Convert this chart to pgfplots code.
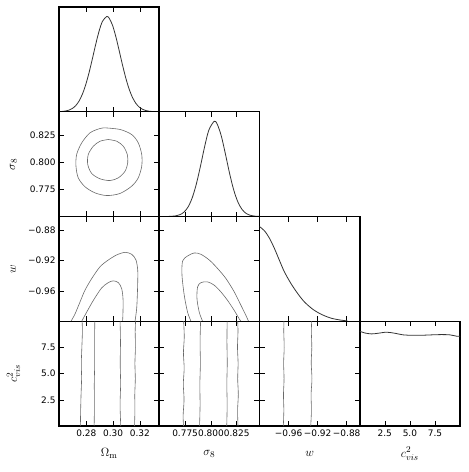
\documentclass[border=0pt]{standalone}
\usepackage[no-math]{fontspec}
\usepackage{pgfplots}
\pgfplotsset{compat=1.18}
\newfontfamily\dejavu{DejaVu Sans}
\definecolor{curve}{HTML}{333333}
\definecolor{cont}{HTML}{6A6A6A}
\pgfplotsset{
    tri/.style={
        scale only axis,
        width=100.25bp,
        height=104.75bp,
        anchor=north west,
        axis line style={line width=1.5pt},
        tick align=inside,
        major tick length=5bp,
        tick style={draw=black,line width=0.6pt},
        tick label style={font=\dejavu\fontsize{9}{10}\selectfont},
        label style={font=\fontsize{13}{15}\selectfont},
        xlabel style={at={(axis description cs:0.5,-0.265)},anchor=center},
        ylabel style={at={(axis description cs:-0.455,0.5)},anchor=center},
        xticklabels={},
        yticklabels={},
    },
    om/.style={xmin=0.2595,xmax=0.3345,xtick={0.28,0.30,0.32}},
    s8x/.style={xmin=0.750,xmax=0.847,xtick={0.775,0.800,0.825}},
    wx/.style={xmin=-1.0,xmax=-0.862,xtick={-0.96,-0.92,-0.88}},
    cx/.style={xmin=0,xmax=10,xtick={2.5,5,7.5}},
    s8y/.style={ymin=0.750,ymax=0.847,ytick={0.775,0.800,0.825}},
    wy/.style={ymin=-1.0,ymax=-0.862,ytick={-0.96,-0.92,-0.88}},
    cy/.style={ymin=0,ymax=10,ytick={2.5,5,7.5}},
    diag/.style={ymin=0,ymax=1.1,ytick=\empty},
    onedim/.style={draw=curve,line width=0.8pt,smooth,no markers},
    ctr/.style={draw=cont,line width=0.6pt,smooth,no markers},
}
\begin{document}
\begin{tikzpicture}
\useasboundingbox (0,0) rectangle (469bp,-472bp);

% row 1
\begin{axis}[tri,om,diag,at={(59bp,-7bp)}]
\addplot[onedim] coordinates {(0.2595,0.0015) (0.2620,0.0036) (0.2645,0.0082) (0.2670,0.0173) (0.2695,0.0344) (0.2720,0.0642) (0.2745,0.1124) (0.2770,0.1845) (0.2795,0.2845) (0.2820,0.4111) (0.2845,0.5577) (0.2870,0.7097) (0.2895,0.8473) (0.2920,0.9491) (0.2952,1.0) (0.2970,0.9836) (0.2995,0.9100) (0.3020,0.7898) (0.3045,0.6434) (0.3070,0.4915) (0.3095,0.3524) (0.3120,0.2369) (0.3145,0.1496) (0.3170,0.0886) (0.3195,0.0491) (0.3220,0.0256) (0.3245,0.0125) (0.3270,0.0057) (0.3295,0.0025) (0.3320,0.0010) (0.3345,0.0004)};
\end{axis}

% row 2
\begin{axis}[tri,om,s8y,at={(59bp,-111.75bp)},ylabel={$\sigma_8$},yticklabels={0.775,0.800,0.825}]
\addplot[ctr] coordinates {(0.2964,0.8213) (0.3027,0.8197) (0.3076,0.8151) (0.3106,0.8074) (0.3109,0.7997) (0.3089,0.7919) (0.3039,0.7858) (0.2977,0.7833) (0.2902,0.7849) (0.2840,0.7898) (0.2810,0.7982) (0.2814,0.8074) (0.2852,0.8151) (0.2902,0.8197) (0.2964,0.8213)};
\addplot[ctr] coordinates {(0.2939,0.8321) (0.3051,0.8306) (0.3139,0.8259) (0.3188,0.8182) (0.3214,0.8074) (0.3214,0.7966) (0.3188,0.7858) (0.3139,0.7781) (0.3051,0.7713) (0.2952,0.7694) (0.2864,0.7719) (0.2790,0.7775) (0.2739,0.7858) (0.2722,0.7966) (0.2727,0.8074) (0.2765,0.8182) (0.2827,0.8275) (0.2902,0.8315) (0.2939,0.8321)};
\end{axis}
\begin{axis}[tri,s8x,diag,at={(159.25bp,-111.75bp)}]
\addplot[onedim] coordinates {(0.750,0.0000) (0.754,0.0002) (0.758,0.0006) (0.762,0.0022) (0.766,0.0069) (0.770,0.0191) (0.774,0.0468) (0.778,0.1022) (0.782,0.1991) (0.786,0.3457) (0.790,0.5348) (0.794,0.7379) (0.798,0.9075) (0.8032,1.0) (0.806,0.9722) (0.810,0.8471) (0.814,0.6579) (0.818,0.4556) (0.822,0.2811) (0.826,0.1546) (0.830,0.0758) (0.834,0.0332) (0.838,0.0129) (0.842,0.0045) (0.846,0.0014) (0.847,0.0010)};
\end{axis}

% row 3
\begin{axis}[tri,om,wy,at={(59bp,-216.5bp)},ylabel={$w$},yticklabels={−0.96,−0.92,−0.88}]
\addplot[ctr] coordinates {(0.2685,-1.0) (0.2715,-0.9903) (0.2752,-0.9747) (0.2789,-0.9592) (0.2840,-0.9437) (0.2902,-0.9282) (0.2964,-0.9193) (0.3027,-0.9126) (0.3089,-0.9092) (0.3139,-0.9118) (0.3171,-0.9193) (0.3184,-0.9326) (0.3184,-0.9481) (0.3181,-0.9658) (0.3176,-0.9836) (0.3164,-1.0)};
\addplot[ctr] coordinates {(0.2765,-1.0) (0.2802,-0.9880) (0.2852,-0.9725) (0.2914,-0.9561) (0.2964,-0.9491) (0.3001,-0.9468) (0.3039,-0.9491) (0.3064,-0.9570) (0.3074,-0.9703) (0.3074,-0.9858) (0.3071,-1.0)};
\end{axis}
\begin{axis}[tri,s8x,wy,at={(159.25bp,-216.5bp)}]
\addplot[ctr] coordinates {(0.7807,-1.0) (0.7774,-0.9880) (0.7742,-0.9658) (0.7720,-0.9392) (0.7726,-0.9206) (0.7774,-0.9140) (0.7839,-0.9100) (0.7903,-0.9118) (0.7984,-0.9193) (0.8064,-0.9304) (0.8145,-0.9437) (0.8226,-0.9614) (0.8291,-0.9791) (0.8339,-0.9924) (0.8364,-1.0)};
\addplot[ctr] coordinates {(0.7919,-1.0) (0.7887,-0.9880) (0.7865,-0.9703) (0.7871,-0.9548) (0.7903,-0.9491) (0.7967,-0.9481) (0.8032,-0.9525) (0.8097,-0.9614) (0.8161,-0.9725) (0.8226,-0.9858) (0.8274,-0.9969) (0.8291,-1.0)};
\end{axis}
\begin{axis}[tri,wx,diag,at={(259.5bp,-216.5bp)}]
\addplot[onedim] coordinates {(-1.0,0.994) (-0.9932,0.950) (-0.9863,0.872) (-0.9795,0.765) (-0.9726,0.640) (-0.9658,0.520) (-0.9566,0.395) (-0.9475,0.292) (-0.9384,0.205) (-0.9270,0.128) (-0.9155,0.075) (-0.9018,0.033) (-0.8881,0.012) (-0.8790,0.004)};
\end{axis}

% row 4
\begin{axis}[tri,om,cy,at={(59bp,-321.25bp)},xlabel={$\Omega_{\rm m}$},ylabel={$c^2_{vis}$},xticklabels={0.28,0.30,0.32},yticklabels={2.5,5.0,7.5}]
\addplot[ctr] coordinates {(0.2755,0) (0.2757,1.5) (0.2760,3) (0.2764,4.5) (0.2762,6) (0.2766,7.5) (0.2770,9) (0.2768,10)};
\addplot[ctr] coordinates {(0.2858,0) (0.2860,2) (0.2859,4) (0.2862,6) (0.2861,8) (0.2863,10)};
\addplot[ctr] coordinates {(0.3057,0) (0.3052,2) (0.3056,4) (0.3053,6) (0.3055,8) (0.3052,10)};
\addplot[ctr] coordinates {(0.3160,0) (0.3163,1.5) (0.3162,3) (0.3166,4.5) (0.3163,6) (0.3167,7.5) (0.3165,9) (0.3168,10)};
\end{axis}
\begin{axis}[tri,s8x,cy,at={(159.25bp,-321.25bp)},xlabel={$\sigma_8$},xticklabels={0.775,0.800,0.825}]
\addplot[ctr] coordinates {(0.7735,0) (0.7731,1) (0.7740,2.5) (0.7733,4) (0.7741,5.5) (0.7734,7) (0.7742,8.5) (0.7736,10)};
\addplot[ctr] coordinates {(0.7890,0) (0.7895,2) (0.7893,4) (0.7898,6) (0.7895,8) (0.7900,10)};
\addplot[ctr] coordinates {(0.8153,0) (0.8157,2) (0.8154,4) (0.8158,6) (0.8155,8) (0.8157,10)};
\addplot[ctr] coordinates {(0.8262,0) (0.8258,1.5) (0.8265,3) (0.8259,4.5) (0.8263,6) (0.8257,7.5) (0.8262,9) (0.8259,10)};
\end{axis}
\begin{axis}[tri,wx,cy,at={(259.5bp,-321.25bp)},xlabel={$w$},xticklabels={−0.96,−0.92,−0.88}]
\addplot[ctr] coordinates {(-0.9672,0) (-0.9665,1.5) (-0.9670,3) (-0.9662,4.5) (-0.9668,6) (-0.9660,7.5) (-0.9666,9) (-0.9663,10)};
\addplot[ctr] coordinates {(-0.9295,0) (-0.9285,1.5) (-0.9290,3) (-0.9278,4.5) (-0.9288,6) (-0.9280,7.5) (-0.9286,9) (-0.9282,10)};
\end{axis}
\begin{axis}[tri,cx,diag,at={(359.75bp,-321.25bp)},xlabel={$c^2_{vis}$},xticklabels={2.5,5.0,7.5}]
\addplot[onedim] coordinates {(0,0.995) (0.5,0.977) (1.17,0.967) (1.83,0.974) (2.67,0.985) (3.5,0.974) (4.33,0.957) (5.17,0.953) (6.17,0.953) (7.17,0.957) (8.17,0.960) (9.0,0.957) (9.67,0.943) (10,0.943)};
\end{axis}
\end{tikzpicture}
\end{document}
